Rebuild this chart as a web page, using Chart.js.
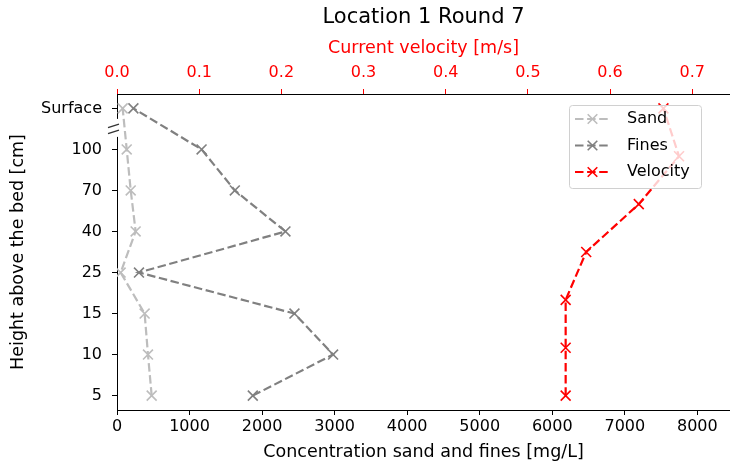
<!DOCTYPE html>
<html>
<head>
<meta charset="utf-8">
<script src="https://cdn.jsdelivr.net/npm/chart.js@4.4.0/dist/chart.umd.min.js"></script>
<style>
  html, body { margin: 0; padding: 0; background: #fff; }
</style>
</head>
<body>
<canvas id="grafico" width="730" height="470"></canvas>
<script>
// Dados (de baixo para cima)
const heights = ['5', '10', '15', '25', '40', '70', '100', 'Surface'];
const sand = [478, 427, 381, 50, 257, 189, 134, 78];
const fines = [1872, 2979, 2446, 303, 2322, 1624, 1166, 226];
// velocidade tem 7 medidas, espalhadas na mesma altura do gráfico
const velocity = [0.546, 0.546, 0.546, 0.571, 0.635, 0.684, 0.665];
const concTicks = [0, 1000, 2000, 3000, 4000, 5000, 6000, 7000, 8000];
const velTicks = [0, 0.1, 0.2, 0.3, 0.4, 0.5, 0.6, 0.7];

Chart.defaults.font.family = "'DejaVu Sans', sans-serif";
Chart.defaults.font.size = 16;
Chart.defaults.color = '#000';

const ctx = document.getElementById('grafico').getContext('2d');

const dash = [8.5, 3.6];

function serie(label, values, color, xAxis, yAxis) {
  return {
    label: label,
    data: values.map((v, i) => ({ x: v, y: i })),
    xAxisID: xAxis,
    yAxisID: yAxis,
    borderColor: color,
    backgroundColor: color,
    borderWidth: 2.2,
    borderDash: dash,
    pointStyle: 'crossRot',
    pointRadius: 7,
    pointBorderWidth: 1.6,
    pointBorderColor: color,
    tension: 0,
    fill: false
  };
}

// sem padding extra nos eixos
function semPadding(s) {
  s.paddingLeft = 0;
  s.paddingRight = 0;
  s.paddingTop = 0;
  s.paddingBottom = 0;
}

// legenda dentro da área do gráfico
const legendaDentro = {
  id: 'legendaDentro',
  afterDraw(chart) {
    const c = chart.ctx;
    const area = chart.chartArea;
    const w = 132, h = 83;
    const x0 = area.right - 29 - w, y0 = area.top + 11;
    c.save();
    c.beginPath();
    c.roundRect(x0 + 0.5, y0 + 0.5, w, h, 3);
    c.fillStyle = 'rgba(255,255,255,0.8)';
    c.fill();
    c.strokeStyle = '#d0d0d0';
    c.lineWidth = 1;
    c.stroke();
    chart.data.datasets.forEach((ds, i) => {
      const y = y0 + 14 + i * 26.5;
      c.strokeStyle = ds.borderColor;
      c.lineWidth = 2.2;
      c.setLineDash(dash);
      c.beginPath();
      c.moveTo(x0 + 6, y);
      c.lineTo(x0 + 41, y);
      c.stroke();
      c.setLineDash([]);
      c.lineWidth = 1.6;
      const mx = x0 + 23.5, r = 4.8;
      c.beginPath();
      c.moveTo(mx - r, y - r); c.lineTo(mx + r, y + r);
      c.moveTo(mx - r, y + r); c.lineTo(mx + r, y - r);
      c.stroke();
      c.fillStyle = '#000';
      c.font = "16px 'DejaVu Sans', sans-serif";
      c.textBaseline = 'middle';
      c.textAlign = 'left';
      c.fillText(ds.label, x0 + 58, y);
    });
    c.restore();
  }
};

// marca de quebra "//" no eixo y entre 100 e Surface
const quebraEixo = {
  id: 'quebraEixo',
  afterDraw(chart) {
    const c = chart.ctx;
    const left = chart.chartArea.left;
    const yc = chart.scales.y.getPixelForValue(6.5);
    c.save();
    c.fillStyle = '#fff';
    c.fillRect(left - 2, yc - 10, 4, 18);
    c.strokeStyle = '#333';
    c.lineWidth = 1.3;
    [-3, 3].forEach(off => {
      c.beginPath();
      c.moveTo(left - 9, yc + off + 1.7);
      c.lineTo(left + 2, yc + off - 1.7);
      c.stroke();
    });
    c.restore();
  }
};

const grafico = new Chart(ctx, {
  type: 'line',
  data: {
    datasets: [
      serie('Sand', sand, '#bdbdbd', 'x', 'y'),
      serie('Fines', fines, '#808080', 'x', 'y'),
      serie('Velocity', velocity, '#ff0000', 'x2', 'y2')
    ]
  },
  options: {
    responsive: false,
    animation: false,
    devicePixelRatio: 1,
    layout: { padding: 0, autoPadding: false },
    plugins: {
      legend: { display: false },
      tooltip: { enabled: false },
      title: {
        display: true,
        fullSize: false,
        text: 'Location 1 Round 7',
        color: '#000',
        font: { size: 21, weight: 'normal' },
        padding: { top: 5.4, bottom: 3 }
      }
    },
    scales: {
      x: {
        type: 'linear',
        position: 'bottom',
        min: 0,
        max: 8450,
        afterBuildTicks: s => { s.ticks = concTicks.map(v => ({ value: v })); },
        afterFit: s => { s.height = 60; semPadding(s); },
        ticks: { callback: v => String(v), padding: 2, maxRotation: 0 },
        grid: { drawOnChartArea: false, color: '#000', tickLength: 5 },
        border: { color: '#000' },
        title: { display: true, text: 'Concentration sand and fines [mg/L]', font: { size: 17.5 }, padding: { top: 0, bottom: 7.5 } }
      },
      x2: {
        type: 'linear',
        position: 'top',
        min: 0,
        max: 0.746,
        afterBuildTicks: s => { s.ticks = velTicks.map(v => ({ value: v })); },
        afterFit: s => { s.height = 60.4; semPadding(s); },
        ticks: { color: '#ff0000', callback: v => v.toFixed(1), padding: 7, maxRotation: 0 },
        grid: { drawOnChartArea: false, color: '#ff0000', tickLength: 5 },
        border: { color: '#000' },
        title: { display: true, text: 'Current velocity [m/s]', color: '#ff0000', font: { size: 17.5 }, padding: { top: 3.9, bottom: 0 } }
      },
      y: {
        type: 'linear',
        position: 'left',
        min: -0.35,
        max: 7.35,
        afterBuildTicks: s => { s.ticks = heights.map((h, i) => ({ value: i })); },
        afterFit: s => { s.width = 117; semPadding(s); },
        ticks: { callback: v => heights[v], padding: 10 },
        grid: { drawOnChartArea: false, color: '#000', tickLength: 5 },
        border: { color: '#000' },
        title: { display: true, text: 'Height above the bed [cm]', font: { size: 17.5 }, padding: { top: 8, bottom: 0 } }
      },
      y2: {
        type: 'linear',
        display: false,
        min: -0.3,
        max: 6.3
      }
    }
  },
  plugins: [legendaDentro, quebraEixo]
});
</script>
</body>
</html>
